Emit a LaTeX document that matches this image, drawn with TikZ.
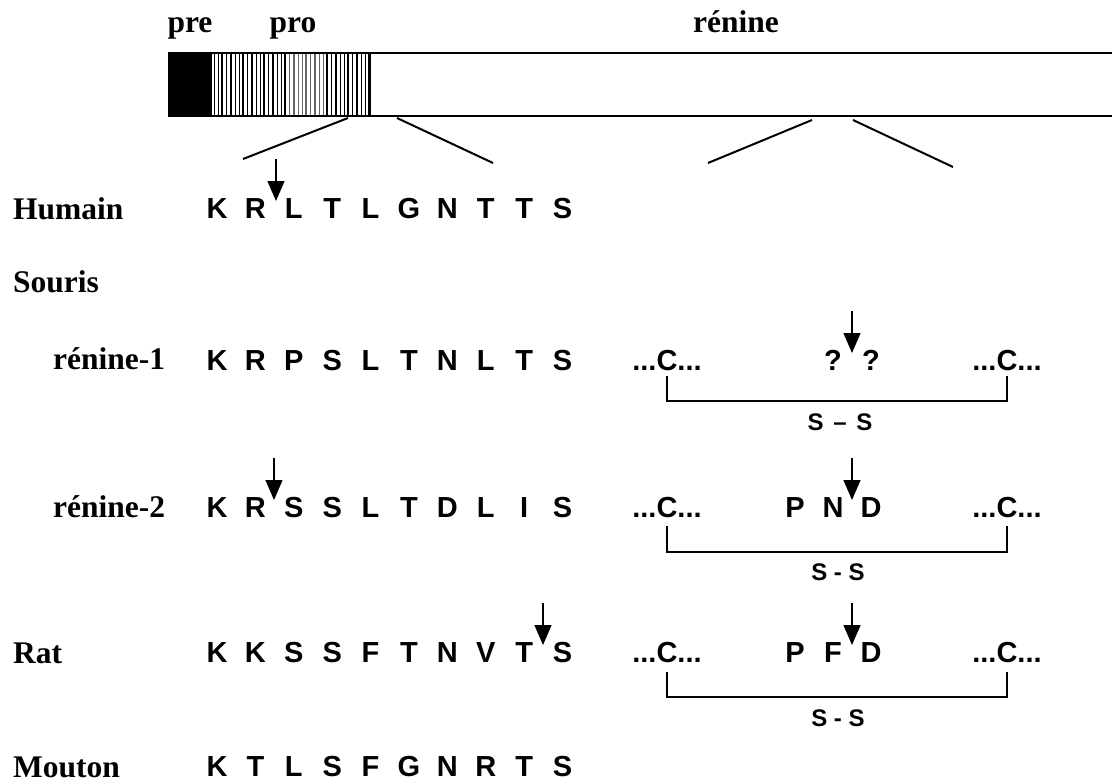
\documentclass[tikz,border=0pt]{standalone}
\usepackage{fontspec}
\setmainfont{Liberation Serif}
\newfontfamily\seqfont{Liberation Sans}
\usetikzlibrary{arrows.meta,calc}

\tikzset{
  rowlabel/.style={font=\fontsize{31.5}{31.5}\selectfont\bfseries, anchor=base west, inner sep=0pt},
  domlabel/.style={font=\fontsize{31.5}{31.5}\selectfont\bfseries, anchor=base, inner sep=0pt},
  aa/.style={font=\seqfont\fontsize{29}{29}\selectfont\bfseries, anchor=base, inner sep=0pt},
  sslabel/.style={font=\seqfont\fontsize{24}{24}\selectfont\bfseries, anchor=base, inner sep=0pt},
  cleave/.style={line width=1.3pt, -{Triangle[length=20pt,width=17pt]}},
  bond/.style={line width=1.5pt},
  zoomline/.style={line width=2pt},
  barline/.style={line width=1.8pt},
}

% one row of ten residues, in fixed columns
\newcommand\seqrow[3]{%
  \foreach \c [count=\i from 0] in {#3}
    \node[aa] (#1\i) at ({217+38.4*\i}, #2) {\c};%
}

\begin{document}
\begin{tikzpicture}[x=1pt, y=-1pt]
\useasboundingbox (0,0) rectangle (1112,782);

% ---- precursor bar ----
\fill (168,53) rectangle (212,116);
\foreach \i in {0,...,37} {
  \pgfmathsetmacro\xx{214+4.2*\i}
  \pgfmathsetmacro\ww{0.6+0.35*mod(\i*7,5)}
  \pgfmathsetmacro\cc{(\i>17 && \i<27) ? 60 : 100}
  \draw[line width=\ww pt, black!\cc] (\xx,53) -- (\xx,116);
}
\draw[line width=2pt] (370,53) -- (370,116);
\draw[barline] (168,53) -- (1112,53);
\draw[barline] (168,116) -- (1112,116);

\node[domlabel] (pre) at (190,32) {pre};
\node[domlabel] (pro) at (293,32) {pro};
\node[domlabel] (ren) at (736,32) {rénine};

% ---- zoom lines from the bar ----
\coordinate (zA1) at (348,118); \coordinate (zA2) at (243,159);
\coordinate (zB1) at (397,118); \coordinate (zB2) at (493,163);
\coordinate (zC1) at (812,120); \coordinate (zC2) at (708,163);
\coordinate (zD1) at (853,120); \coordinate (zD2) at (953,167);
\draw[zoomline] (zA1) -- (zA2);
\draw[zoomline] (zB1) -- (zB2);
\draw[zoomline] (zC1) -- (zC2);
\draw[zoomline] (zD1) -- (zD2);

% ---- species labels ----
\node[rowlabel] (lHum) at (13,219) {Humain};
\node[rowlabel] (lSou) at (13,292) {Souris};
\node[rowlabel] (lR1)  at (53,369) {rénine-1};
\node[rowlabel] (lR2)  at (53,517) {rénine-2};
\node[rowlabel] (lRat) at (13,663) {Rat};
\node[rowlabel] (lMou) at (13,777) {Mouton};

% ---- prosegment sequences ----
\seqrow{h}{218}{K,R,L,T,L,G,N,T,T,S}
\seqrow{a}{370}{K,R,P,S,L,T,N,L,T,S}
\seqrow{b}{517}{K,R,S,S,L,T,D,L,I,S}
\seqrow{r}{662}{K,K,S,S,F,T,N,V,T,S}
\seqrow{m}{776}{K,T,L,S,F,G,N,R,T,S}

% ---- renin region: cysteines and cleavage site ----
\node[aa] (aCL) at (667,370) {...C...};
\node[aa] (aCR) at (1007,370) {...C...};
\node[aa] (aQ1) at (833,370) {?};
\node[aa] (aQ2) at (871,370) {?};

\node[aa] (bCL) at (667,517) {...C...};
\node[aa] (bCR) at (1007,517) {...C...};
\node[aa] (bP) at (795,517) {P};
\node[aa] (bN) at (833,517) {N};
\node[aa] (bD) at (871,517) {D};

\node[aa] (rCL) at (667,662) {...C...};
\node[aa] (rCR) at (1007,662) {...C...};
\node[aa] (rP) at (795,662) {P};
\node[aa] (rF) at (833,662) {F};
\node[aa] (rD) at (871,662) {D};

% ---- disulfide brackets ----
\draw[bond] ([yshift=-6pt]aCL.base) |- ([yshift=-31pt]aCR.base) -- ([yshift=-6pt]aCR.base);
\draw[bond] ([yshift=-9pt]bCL.base) |- ([yshift=-35pt]bCR.base) -- ([yshift=-9pt]bCR.base);
\draw[bond] ([yshift=-10pt]rCL.base) |- ([yshift=-35pt]rCR.base) -- ([yshift=-10pt]rCR.base);
\node[sslabel] (aSS) at (840,430) {S\hspace{3pt} – \hspace{3pt}S};
\node[sslabel] (bSS) at (838,580) {S - S};
\node[sslabel] (rSS) at (838,726) {S - S};

% ---- cleavage arrows ----
\coordinate (cH0) at (276,159); \coordinate (cH1) at (276,201);
\coordinate (cA0) at (852,311); \coordinate (cA1) at (852,353);
\coordinate (cB0) at (274,458); \coordinate (cB1) at (274,500);
\coordinate (cC0) at (852,458); \coordinate (cC1) at (852,500);
\coordinate (cR0) at (543,603); \coordinate (cR1) at (543,645);
\coordinate (cS0) at (852,603); \coordinate (cS1) at (852,645);
\foreach \p in {H,A,B,C,R,S}
  \draw[cleave] (c\p0) -- (c\p1);
\end{tikzpicture}
\end{document}
